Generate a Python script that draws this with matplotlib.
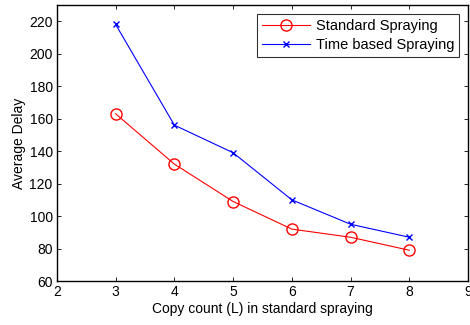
import numpy as np
import matplotlib
matplotlib.use("Agg")
import matplotlib.pyplot as plt

plt.rcParams.update({
    "font.family": "Liberation Sans",
    "font.size": 10,
    "xtick.direction": "in",
    "ytick.direction": "in",
    "xtick.top": True,
    "ytick.right": True,
})

# Data
copies = np.array([3, 4, 5, 6, 7, 8])
standard = np.array([163, 132, 109, 92, 87, 79])
time_based = np.array([218, 156, 139, 110, 95, 87])

fig = plt.figure(figsize=(4.7, 3.25), dpi=100)
ax = fig.add_axes([0.121, 0.135, 0.875, 0.85])

ax.plot(copies, standard, color="red", marker="o", markerfacecolor="none",
        markersize=8, linewidth=0.8, label="Standard Spraying")
ax.plot(copies, time_based, color="blue", marker="x",
        markersize=5, linewidth=0.8, label="Time based Spraying")

ax.set_xlim(2, 9)
ax.set_ylim(60, 230)
ax.set_xticks(range(2, 10))
ax.set_yticks(range(60, 221, 20))
ax.set_xlabel("Copy count (L) in standard spraying", labelpad=2)
ax.set_ylabel("Average Delay", labelpad=2)
ax.tick_params(length=3, width=0.6, pad=3)
for s in ax.spines.values():
    s.set_linewidth(1.0)

leg = ax.legend(loc="upper right", fancybox=False, edgecolor="black",
                borderpad=0.35, handlelength=3.3, handletextpad=0.4,
                labelspacing=0.35, borderaxespad=0.6, fontsize=10.5)
leg.get_frame().set_linewidth(0.8)

fig.savefig("out.png", dpi=100)
